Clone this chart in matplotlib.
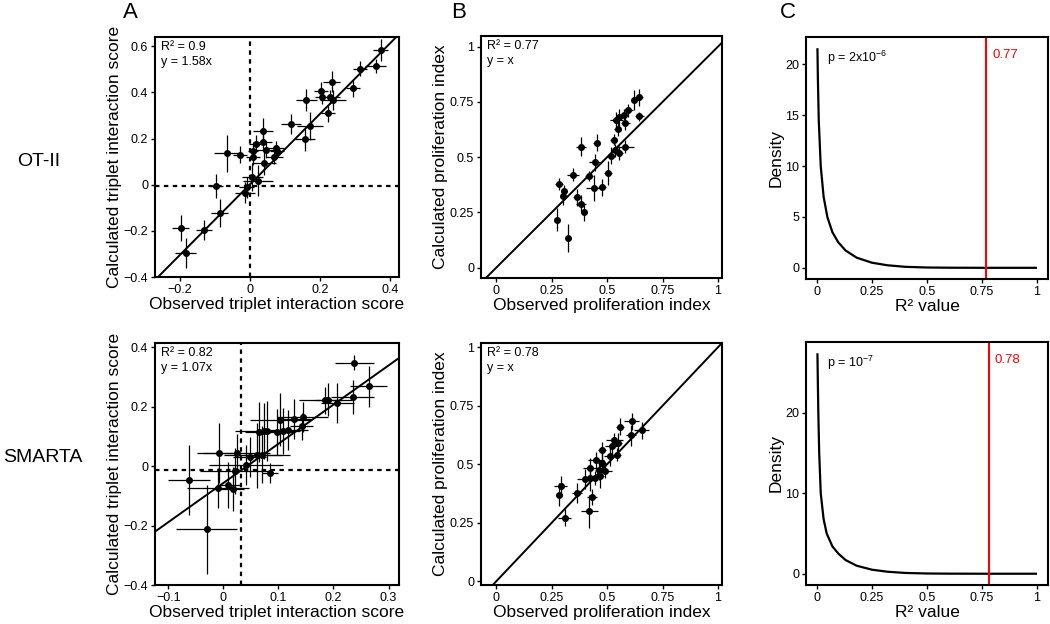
import numpy as np
import matplotlib.pyplot as plt

plt.rcParams['font.family'] = ['Liberation Sans', 'DejaVu Sans']
plt.rcParams['mathtext.fontset'] = 'custom'
plt.rcParams['mathtext.rm'] = 'Liberation Sans'
plt.rcParams['mathtext.it'] = 'Liberation Sans'

# panel A, OT-II : observed vs calculated triplet interaction score
a1_x = [0.374, 0.36, 0.314, 0.295, 0.234, 0.203, 0.206, 0.23, 0.238, 0.162, 0.224, 0.117,
        0.172, 0.157, 0.039, 0.017, 0.009, 0.039, 0.048, 0.074, 0.079, 0.07, -0.064, -0.028,
        0.01, 0.041, 0.008, 0.025, -0.097, -0.009, -0.014, -0.086, -0.13, -0.197, -0.183]
a1_y = [0.584, 0.514, 0.502, 0.418, 0.447, 0.407, 0.381, 0.381, 0.366, 0.366, 0.31, 0.262,
        0.255, 0.196, 0.233, 0.178, 0.144, 0.185, 0.151, 0.161, 0.144, 0.121, 0.136, 0.129,
        0.121, 0.092, 0.033, 0.018, -0.004, -0.012, -0.034, -0.123, -0.197, -0.187, -0.296]
a1_xerr = [0.022, 0.03, 0.02, 0.02, 0.024, 0.02, 0.02, 0.029, 0.038, 0.03, 0.02, 0.029,
           0.038, 0.029, 0.029, 0.02, 0.015, 0.024, 0.033, 0.024, 0.02, 0.024, 0.038, 0.02,
           0.02, 0.033, 0.029, 0.043, 0.02, 0.02, 0.029, 0.024, 0.024, 0.024, 0.029]
a1_yerr = [0.048, 0.03, 0.033, 0.037, 0.044, 0.037, 0.03, 0.03, 0.044, 0.048, 0.037, 0.044,
           0.062, 0.052, 0.058, 0.037, 0.04, 0.037, 0.037, 0.03, 0.03, 0.03, 0.081, 0.037,
           0.037, 0.052, 0.059, 0.067, 0.052, 0.044, 0.044, 0.059, 0.044, 0.056, 0.067]
a1_slope = 1.53

# panel A, SMARTA
a2_x = [0.238, 0.264, 0.235, 0.207, 0.191, 0.185, 0.144, 0.129, 0.103, 0.142, 0.118, 0.109,
        0.097, 0.079, 0.074, 0.064, 0.071, 0.061, 0.048, 0.024, -0.007, 0.041, 0.021, 0.085,
        -0.062, -0.009, 0.009, 0.017, -0.03]
a2_y = [0.348, 0.269, 0.233, 0.213, 0.224, 0.222, 0.166, 0.16, 0.157, 0.134, 0.121, 0.118,
        0.115, 0.118, 0.118, 0.115, 0.039, 0.037, 0.031, 0.043, 0.045, 0.003, -0.016, -0.022,
        -0.047, -0.072, -0.064, -0.077, -0.213]
a2_xerr = [0.035, 0.034, 0.039, 0.03, 0.024, 0.048, 0.047, 0.03, 0.055, 0.021, 0.036, 0.03,
           0.03, 0.021, 0.053, 0.024, 0.035, 0.06, 0.03, 0.06, 0.04, 0.067, 0.064, 0.015,
           0.038, 0.056, 0.021, 0.021, 0.055]
a2_yerr = [0.025, 0.07, 0.056, 0.067, 0.056, 0.045, 0.05, 0.067, 0.09, 0.045, 0.067, 0.078,
           0.078, 0.1, 0.095, 0.1, 0.095, 0.11, 0.067, 0.067, 0.1, 0.067, 0.078, 0.034,
           0.118, 0.067, 0.078, 0.073, 0.15]
a2_slope = 1.32
a2_icpt = -0.0566
a2_x0 = 0.033
a2_y0 = -0.013

# panel B, OT-II : observed vs calculated proliferation index
b1_x = [0.643, 0.623, 0.644, 0.596, 0.574, 0.554, 0.541, 0.581, 0.547, 0.529, 0.453, 0.383,
        0.581, 0.554, 0.518, 0.536, 0.447, 0.503, 0.416, 0.345, 0.441, 0.476, 0.285, 0.306,
        0.303, 0.366, 0.383, 0.396, 0.273, 0.324]
b1_y = [0.771, 0.759, 0.684, 0.711, 0.691, 0.681, 0.669, 0.654, 0.627, 0.578, 0.566, 0.548,
        0.548, 0.518, 0.506, 0.53, 0.476, 0.428, 0.413, 0.42, 0.36, 0.363, 0.378, 0.345,
        0.322, 0.319, 0.289, 0.25, 0.217, 0.134]
b1_xerr = [0.018, 0.015, 0.02, 0.02, 0.018, 0.015, 0.03, 0.02, 0.015, 0.015, 0.015, 0.022,
           0.038, 0.018, 0.018, 0.018, 0.03, 0.018, 0.018, 0.027, 0.038, 0.018, 0.018, 0.015,
           0.015, 0.018, 0.022, 0.015, 0.012, 0.015]
b1_yerr = [0.038, 0.045, 0.02, 0.03, 0.025, 0.038, 0.033, 0.03, 0.03, 0.025, 0.038, 0.045,
           0.03, 0.033, 0.038, 0.03, 0.038, 0.053, 0.023, 0.03, 0.06, 0.038, 0.027, 0.03,
           0.038, 0.038, 0.038, 0.038, 0.053, 0.063]

# panel B, SMARTA
b2_x = [0.656, 0.611, 0.559, 0.607, 0.532, 0.547, 0.521, 0.544, 0.514, 0.476, 0.45, 0.476,
        0.423, 0.465, 0.491, 0.401, 0.423, 0.468, 0.281, 0.291, 0.363, 0.431, 0.308, 0.419,
        0.446]
b2_y = [0.645, 0.684, 0.66, 0.623, 0.605, 0.591, 0.577, 0.541, 0.534, 0.56, 0.517, 0.506,
        0.484, 0.477, 0.47, 0.437, 0.442, 0.449, 0.37, 0.406, 0.377, 0.36, 0.271, 0.299,
        0.442]
b2_xerr = [0.033, 0.033, 0.018, 0.022, 0.038, 0.018, 0.03, 0.018, 0.03, 0.018, 0.038, 0.018,
           0.03, 0.018, 0.03, 0.038, 0.03, 0.018, 0.012, 0.03, 0.022, 0.022, 0.03, 0.038,
           0.02]
b2_yerr = [0.036, 0.036, 0.036, 0.043, 0.03, 0.043, 0.036, 0.028, 0.043, 0.036, 0.036, 0.043,
           0.043, 0.043, 0.03, 0.043, 0.057, 0.05, 0.05, 0.043, 0.043, 0.036, 0.036, 0.071,
           0.03]

# panel C : null density of R^2
c1_x = [0.002, 0.004, 0.008, 0.017, 0.03, 0.047, 0.07, 0.097, 0.13, 0.18, 0.25, 0.32, 0.4,
        0.5, 0.6, 0.75, 1.0]
c1_y = [21.6, 18.6, 14.5, 10.0, 7.0, 5.0, 3.5, 2.5, 1.7, 1.0, 0.5, 0.25, 0.1, 0.03, 0.01,
        0.0, 0.0]
c2_x = [0.002, 0.004, 0.006, 0.01, 0.017, 0.03, 0.044, 0.07, 0.097, 0.13, 0.18, 0.25, 0.32,
        0.4, 0.5, 0.6, 0.75, 1.0]
c2_y = [27.4, 23.5, 20.0, 15.0, 10.0, 6.8, 5.0, 3.4, 2.5, 1.7, 1.0, 0.5, 0.25, 0.1, 0.03,
        0.01, 0.0, 0.0]
c1_obs = 0.77
c2_obs = 0.78

fig = plt.figure(figsize=(10.5, 6.24), dpi=100)
W, H = 1050.0, 624.0


def box(l, r, t, b):
    return fig.add_axes([l / W, 1 - b / H, (r - l) / W, (b - t) / H])


def style(ax):
    for s in ax.spines.values():
        s.set_linewidth(1.5)
    ax.tick_params(length=3, width=1, labelsize=9, pad=2, color='black')


def scatter(ax, x, y, xe, ye):
    ax.errorbar(x, y, xerr=xe, yerr=ye, fmt='o', color='black', ms=4,
                elinewidth=0.9, capsize=0, zorder=3)


# A top
ax = box(155, 399, 37, 277)
style(ax)
scatter(ax, a1_x, a1_y, a1_xerr, a1_yerr)
ax.axline((0, 0), slope=a1_slope, color='black', lw=1.4)
ax.axhline(-0.005, color='black', lw=1.6, ls=(0, (2, 2)))
ax.axvline(0, color='black', lw=1.6, ls=(0, (2, 2)))
ax.set_xlim(-0.27, 0.426)
ax.set_ylim(-0.4, 0.64)
ax.set_xticks([-0.2, 0, 0.2, 0.4], ['\u22120.2', '0', '0.2', '0.4'])
ax.set_yticks([-0.4, -0.2, 0, 0.2, 0.4, 0.6], ['\u22120.4', '\u22120.2', '0', '0.2', '0.4', '0.6'])
ax.set_xlabel('Observed triplet interaction score', fontsize=12.5, labelpad=1)
ax.set_ylabel('Calculated triplet interaction score', fontsize=12.5, labelpad=1)
ax.text(0.025, 0.985, 'R\u00b2 = 0.9\ny = 1.58x', transform=ax.transAxes, fontsize=9,
        va='top', ha='left', linespacing=1.35)

# A bottom
ax = box(155, 399, 343, 585)
style(ax)
scatter(ax, a2_x, a2_y, a2_xerr, a2_yerr)
ax.axline((0, a2_icpt), slope=a2_slope, color='black', lw=1.4)
ax.axhline(a2_y0, color='black', lw=1.6, ls=(0, (2, 2)))
ax.axvline(a2_x0, color='black', lw=1.6, ls=(0, (2, 2)))
ax.set_xlim(-0.124, 0.319)
ax.set_ylim(-0.4, 0.415)
ax.set_xticks([-0.1, 0, 0.1, 0.2, 0.3], ['\u22120.1', '0', '0.1', '0.2', '0.3'])
ax.set_yticks([-0.4, -0.2, 0, 0.2, 0.4], ['\u22120.4', '\u22120.2', '0', '0.2', '0.4'])
ax.set_xlabel('Observed triplet interaction score', fontsize=12.5, labelpad=1)
ax.set_ylabel('Calculated triplet interaction score', fontsize=12.5, labelpad=1)
ax.text(0.025, 0.985, 'R\u00b2 = 0.82\ny = 1.07x', transform=ax.transAxes, fontsize=9,
        va='top', ha='left', linespacing=1.35)

# B panels
prolif_ticks = [0, 0.25, 0.5, 0.75, 1]
prolif_labels = ['0', '0.25', '0.5', '0.75', '1']
for (t, b, px, py, pxe, pye, r2, ylo, yhi) in [
        (36, 278, b1_x, b1_y, b1_xerr, b1_yerr, '0.77', -0.047, 1.048),
        (343, 585, b2_x, b2_y, b2_xerr, b2_yerr, '0.78', -0.016, 1.018)]:
    ax = box(481, 722, t, b)
    style(ax)
    scatter(ax, px, py, pxe, pye)
    ax.axline((0, 0), slope=1, color='black', lw=1.4)
    ax.set_xlim(-0.069, 1.018)
    ax.set_ylim(ylo, yhi)
    ax.set_xticks(prolif_ticks, prolif_labels)
    ax.set_yticks(prolif_ticks, prolif_labels)
    ax.set_xlabel('Observed proliferation index', fontsize=12.5, labelpad=1)
    ax.set_ylabel('Calculated proliferation index', fontsize=12.5, labelpad=1)
    ax.text(0.025, 0.985, 'R\u00b2 = ' + r2 + '\ny = x', transform=ax.transAxes, fontsize=9,
            va='top', ha='left', linespacing=1.35)

# C panels
for (t, b, cx, cy, obs, ptxt, ylo, yhi, yt) in [
        (37, 279, c1_x, c1_y, c1_obs, 'p = 2x10$^{-6}$', -1.1, 22.7, [0, 5, 10, 15, 20]),
        (342, 585, c2_x, c2_y, c2_obs, 'p = 10$^{-7}$', -1.4, 28.8, [0, 10, 20])]:
    ax = box(806, 1048, t, b)
    style(ax)
    ax.plot(cx, cy, color='black', lw=1.6, solid_capstyle='butt')
    ax.axvline(obs, color='#ff0000', lw=1.5)
    ax.set_xlim(-0.05, 1.05)
    ax.set_ylim(ylo, yhi)
    ax.set_xticks(prolif_ticks, prolif_labels)
    ax.set_yticks(yt, [str(v) for v in yt])
    ax.set_xlabel('R\u00b2 value', fontsize=12.5, labelpad=1)
    ax.set_ylabel('Density', fontsize=12.5, labelpad=1)
    ax.text(0.085, 0.95, ptxt, transform=ax.transAxes, fontsize=9, va='top', ha='left')
    ax.text(obs + 0.027, 0.95, '%.2f' % obs, transform=ax.get_xaxis_transform(),
            fontsize=9.5, va='top', ha='left', color='#ff0000')

# panel letters and row labels
fig.text(130 / W, 1 - 12 / H, 'A', fontsize=16, ha='center', va='center')
fig.text(459 / W, 1 - 12 / H, 'B', fontsize=16, ha='center', va='center')
fig.text(788 / W, 1 - 12 / H, 'C', fontsize=16, ha='center', va='center')
fig.text(39 / W, 1 - 162 / H, 'OT-II', fontsize=14, ha='center', va='center')
fig.text(43 / W, 1 - 457 / H, 'SMARTA', fontsize=14, ha='center', va='center')

fig.savefig('out.png', dpi=100, facecolor='white')
